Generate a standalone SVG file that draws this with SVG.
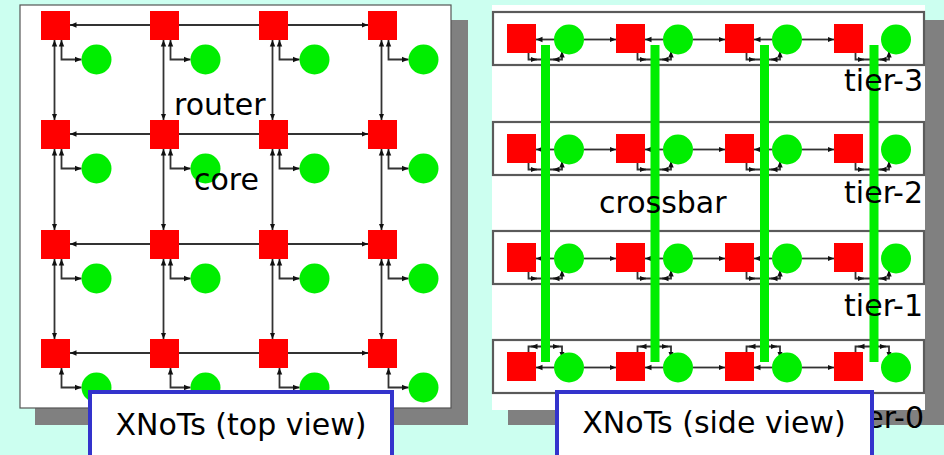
<svg xmlns="http://www.w3.org/2000/svg" width="944" height="455" viewBox="0 0 944 455">
<style>
.r{fill:#ff0000}
.c{fill:#00ee00}
.ln{fill:none;stroke:#333;stroke-width:1.8}
.ar{marker-start:url(#ah);marker-end:url(#ah)}
.ae{marker-end:url(#ah)}
.sh{fill:#808080}
.pn{fill:#ffffff;stroke:#555;stroke-width:1.2}
.st{fill:#ffffff;stroke:#5a5a5a;stroke-width:2.2}
.bar{fill:#00ee00}
.t{font-family:"DejaVu Sans",sans-serif;font-size:30px;fill:#000}
.lb{fill:#ffffff;stroke:#3333cc;stroke-width:4}
</style>
<defs>
<marker id="ah" viewBox="0 0 6 6" refX="6" refY="3" markerWidth="6.5" markerHeight="6.5" markerUnits="userSpaceOnUse" orient="auto-start-reverse"><path d="M0,0.5 L6,3 L0,5.5z" fill="#111"/></marker>
</defs>
<rect width="944" height="455" fill="#ccfff0"/>

<g id="panel-top">
<rect class="sh" x="35" y="20" width="433" height="405"/>
<rect class="pn" x="20" y="5" width="431" height="403"/>
</g>
<g id="panel-side">
<rect class="sh" x="508" y="20" width="436" height="405"/>
<rect fill="#ffffff" x="492" y="5" width="433" height="405"/>
<rect class="st" x="493" y="12" width="431" height="53"/>
<rect class="st" x="493" y="122" width="431" height="53"/>
<rect class="st" x="493" y="231" width="431" height="53"/>
<rect class="st" x="493" y="340" width="431" height="53"/>
</g>

<g id="connectors">
<path class="ln ar" d="M70,25 H150 M179,25 H259 M288,25 H368"/>
<path class="ln ar" d="M70,134 H150 M179,134 H259 M288,134 H368"/>
<path class="ln ar" d="M70,244 H150 M179,244 H259 M288,244 H368"/>
<path class="ln ar" d="M70,353 H150 M179,353 H259 M288,353 H368"/>
<path class="ln ar" d="M54.5,40 V120"/><path class="ln ar" d="M54.5,149 V230"/><path class="ln ar" d="M54.5,259 V339"/>
<path class="ln ar" d="M163.5,40 V120"/><path class="ln ar" d="M163.5,149 V230"/><path class="ln ar" d="M163.5,259 V339"/>
<path class="ln ar" d="M272.5,40 V120"/><path class="ln ar" d="M272.5,149 V230"/><path class="ln ar" d="M272.5,259 V339"/>
<path class="ln ar" d="M381.5,40 V120"/><path class="ln ar" d="M381.5,149 V230"/><path class="ln ar" d="M381.5,259 V339"/>
<path class="ln ar" d="M61.5,40 V59.5 H81.5"/><path class="ln ar" d="M170.5,40 V59.5 H190.5"/><path class="ln ar" d="M279.5,40 V59.5 H299.5"/><path class="ln ar" d="M388.5,40 V59.5 H408.5"/>
<path class="ln ar" d="M61.5,149 V168.5 H81.5"/><path class="ln ar" d="M170.5,149 V168.5 H190.5"/><path class="ln ar" d="M279.5,149 V168.5 H299.5"/><path class="ln ar" d="M388.5,149 V168.5 H408.5"/>
<path class="ln ar" d="M61.5,259 V278.5 H81.5"/><path class="ln ar" d="M170.5,259 V278.5 H190.5"/><path class="ln ar" d="M279.5,259 V278.5 H299.5"/><path class="ln ar" d="M388.5,259 V278.5 H408.5"/>
<path class="ln ar" d="M61.5,368 V387.5 H81.5"/><path class="ln ar" d="M170.5,368 V387.5 H190.5"/><path class="ln ar" d="M279.5,368 V387.5 H299.5"/><path class="ln ar" d="M388.5,368 V387.5 H408.5"/>

<path class="ln ae" d="M554,39.5 H536"/><path class="ln ae" d="M584,39.5 H616"/><path class="ln ae" d="M663,39.5 H645"/><path class="ln ae" d="M693,39.5 H725"/><path class="ln ae" d="M772,39.5 H754"/><path class="ln ae" d="M802,39.5 H834"/>
<path class="ln ae" d="M554,149.5 H536"/><path class="ln ae" d="M584,149.5 H616"/><path class="ln ae" d="M663,149.5 H645"/><path class="ln ae" d="M693,149.5 H725"/><path class="ln ae" d="M772,149.5 H754"/><path class="ln ae" d="M802,149.5 H834"/>
<path class="ln ae" d="M554,258.5 H536"/><path class="ln ae" d="M584,258.5 H616"/><path class="ln ae" d="M663,258.5 H645"/><path class="ln ae" d="M693,258.5 H725"/><path class="ln ae" d="M772,258.5 H754"/><path class="ln ae" d="M802,258.5 H834"/>
<path class="ln ae" d="M554,367.5 H536"/><path class="ln ae" d="M584,367.5 H616"/><path class="ln ae" d="M663,367.5 H645"/><path class="ln ae" d="M693,367.5 H725"/><path class="ln ae" d="M772,367.5 H754"/><path class="ln ae" d="M802,367.5 H834"/>
<path class="ln ar" d="M528.5,43 V59.5 H562 V51"/><path class="ln ar" d="M637.5,43 V59.5 H671 V51"/><path class="ln ar" d="M746.5,43 V59.5 H780 V51"/><path class="ln ar" d="M855.5,43 V59.5 H889 V51"/>
<path class="ln ar" d="M528.5,153 V169.5 H562 V161"/><path class="ln ar" d="M637.5,153 V169.5 H671 V161"/><path class="ln ar" d="M746.5,153 V169.5 H780 V161"/><path class="ln ar" d="M855.5,153 V169.5 H889 V161"/>
<path class="ln ar" d="M528.5,262 V278.5 H562 V270"/><path class="ln ar" d="M637.5,262 V278.5 H671 V270"/><path class="ln ar" d="M746.5,262 V278.5 H780 V270"/><path class="ln ar" d="M855.5,262 V278.5 H889 V270"/>
<path class="ln ar" d="M528.5,363 V346.5 H562 V358"/><path class="ln ar" d="M637.5,363 V346.5 H671 V358"/><path class="ln ar" d="M746.5,363 V346.5 H780 V358"/><path class="ln ar" d="M855.5,363 V346.5 H889 V358"/>
<g class="ln ae">
<path d="M531,59.5 H537"/><path d="M559,59.5 H553"/><path d="M640,59.5 H646"/><path d="M668,59.5 H662"/><path d="M749,59.5 H755"/><path d="M777,59.5 H771"/><path d="M858,59.5 H864"/><path d="M886,59.5 H880"/>
<path d="M531,169.5 H537"/><path d="M559,169.5 H553"/><path d="M640,169.5 H646"/><path d="M668,169.5 H662"/><path d="M749,169.5 H755"/><path d="M777,169.5 H771"/><path d="M858,169.5 H864"/><path d="M886,169.5 H880"/>
<path d="M531,278.5 H537"/><path d="M559,278.5 H553"/><path d="M640,278.5 H646"/><path d="M668,278.5 H662"/><path d="M749,278.5 H755"/><path d="M777,278.5 H771"/><path d="M858,278.5 H864"/><path d="M886,278.5 H880"/>
<path d="M537,346.5 H531"/><path d="M553,346.5 H559"/><path d="M646,346.5 H640"/><path d="M662,346.5 H668"/><path d="M755,346.5 H749"/><path d="M771,346.5 H777"/><path d="M864,346.5 H858"/><path d="M880,346.5 H886"/>
</g>
</g>

<g id="tv-r00"><rect class="r" x="41" y="11" width="29" height="29"/></g>
<g id="tv-r01"><rect class="r" x="150" y="11" width="29" height="29"/></g>
<g id="tv-r02"><rect class="r" x="259" y="11" width="29" height="29"/></g>
<g id="tv-r03"><rect class="r" x="368" y="11" width="29" height="29"/></g>
<g id="tv-r10"><rect class="r" x="41" y="120" width="29" height="29"/></g>
<g id="tv-r11"><rect class="r" x="150" y="120" width="29" height="29"/></g>
<g id="tv-r12"><rect class="r" x="259" y="120" width="29" height="29"/></g>
<g id="tv-r13"><rect class="r" x="368" y="120" width="29" height="29"/></g>
<g id="tv-r20"><rect class="r" x="41" y="230" width="29" height="29"/></g>
<g id="tv-r21"><rect class="r" x="150" y="230" width="29" height="29"/></g>
<g id="tv-r22"><rect class="r" x="259" y="230" width="29" height="29"/></g>
<g id="tv-r23"><rect class="r" x="368" y="230" width="29" height="29"/></g>
<g id="tv-r30"><rect class="r" x="41" y="339" width="29" height="29"/></g>
<g id="tv-r31"><rect class="r" x="150" y="339" width="29" height="29"/></g>
<g id="tv-r32"><rect class="r" x="259" y="339" width="29" height="29"/></g>
<g id="tv-r33"><rect class="r" x="368" y="339" width="29" height="29"/></g>
<g id="tv-c00"><circle class="c" cx="96.5" cy="59.5" r="15"/></g>
<g id="tv-c01"><circle class="c" cx="205.5" cy="59.5" r="15"/></g>
<g id="tv-c02"><circle class="c" cx="314.5" cy="59.5" r="15"/></g>
<g id="tv-c03"><circle class="c" cx="423.5" cy="59.5" r="15"/></g>
<g id="tv-c10"><circle class="c" cx="96.5" cy="168.5" r="15"/></g>
<g id="tv-c11"><circle class="c" cx="205.5" cy="168.5" r="15"/></g>
<g id="tv-c12"><circle class="c" cx="314.5" cy="168.5" r="15"/></g>
<g id="tv-c13"><circle class="c" cx="423.5" cy="168.5" r="15"/></g>
<g id="tv-c20"><circle class="c" cx="96.5" cy="278.5" r="15"/></g>
<g id="tv-c21"><circle class="c" cx="205.5" cy="278.5" r="15"/></g>
<g id="tv-c22"><circle class="c" cx="314.5" cy="278.5" r="15"/></g>
<g id="tv-c23"><circle class="c" cx="423.5" cy="278.5" r="15"/></g>
<g id="tv-c30"><circle class="c" cx="96.5" cy="387.5" r="15"/></g>
<g id="tv-c31"><circle class="c" cx="205.5" cy="387.5" r="15"/></g>
<g id="tv-c32"><circle class="c" cx="314.5" cy="387.5" r="15"/></g>
<g id="tv-c33"><circle class="c" cx="423.5" cy="387.5" r="15"/></g>

<g id="sv-r30"><rect class="r" x="507" y="24" width="29" height="29"/></g>
<g id="sv-r31"><rect class="r" x="616" y="24" width="29" height="29"/></g>
<g id="sv-r32"><rect class="r" x="725" y="24" width="29" height="29"/></g>
<g id="sv-r33"><rect class="r" x="834" y="24" width="29" height="29"/></g>
<g id="sv-r20"><rect class="r" x="507" y="134" width="29" height="29"/></g>
<g id="sv-r21"><rect class="r" x="616" y="134" width="29" height="29"/></g>
<g id="sv-r22"><rect class="r" x="725" y="134" width="29" height="29"/></g>
<g id="sv-r23"><rect class="r" x="834" y="134" width="29" height="29"/></g>
<g id="sv-r10"><rect class="r" x="507" y="243" width="29" height="29"/></g>
<g id="sv-r11"><rect class="r" x="616" y="243" width="29" height="29"/></g>
<g id="sv-r12"><rect class="r" x="725" y="243" width="29" height="29"/></g>
<g id="sv-r13"><rect class="r" x="834" y="243" width="29" height="29"/></g>
<g id="sv-r00"><rect class="r" x="507" y="352" width="29" height="29"/></g>
<g id="sv-r01"><rect class="r" x="616" y="352" width="29" height="29"/></g>
<g id="sv-r02"><rect class="r" x="725" y="352" width="29" height="29"/></g>
<g id="sv-r03"><rect class="r" x="834" y="352" width="29" height="29"/></g>
<g id="sv-c30"><circle class="c" cx="569" cy="39.5" r="15"/></g>
<g id="sv-c31"><circle class="c" cx="678" cy="39.5" r="15"/></g>
<g id="sv-c32"><circle class="c" cx="787" cy="39.5" r="15"/></g>
<g id="sv-c33"><circle class="c" cx="896" cy="39.5" r="15"/></g>
<g id="sv-c20"><circle class="c" cx="569" cy="149.5" r="15"/></g>
<g id="sv-c21"><circle class="c" cx="678" cy="149.5" r="15"/></g>
<g id="sv-c22"><circle class="c" cx="787" cy="149.5" r="15"/></g>
<g id="sv-c23"><circle class="c" cx="896" cy="149.5" r="15"/></g>
<g id="sv-c10"><circle class="c" cx="569" cy="258.5" r="15"/></g>
<g id="sv-c11"><circle class="c" cx="678" cy="258.5" r="15"/></g>
<g id="sv-c12"><circle class="c" cx="787" cy="258.5" r="15"/></g>
<g id="sv-c13"><circle class="c" cx="896" cy="258.5" r="15"/></g>
<g id="sv-c00"><circle class="c" cx="569" cy="367.5" r="15"/></g>
<g id="sv-c01"><circle class="c" cx="678" cy="367.5" r="15"/></g>
<g id="sv-c02"><circle class="c" cx="787" cy="367.5" r="15"/></g>
<g id="sv-c03"><circle class="c" cx="896" cy="367.5" r="15"/></g>

<g id="crossbars">
<rect class="bar" x="541" y="45" width="9" height="317"/>
<rect class="bar" x="650.5" y="45" width="9" height="317"/>
<rect class="bar" x="760" y="45" width="9" height="317"/>
<rect class="bar" x="869.5" y="45" width="9" height="317"/>
</g>

<g id="labels">
<text class="t" x="174" y="115">router</text>
<text class="t" x="194" y="190">core</text>
<text class="t" x="599" y="213">crossbar</text>
<text class="t" x="923" y="91" text-anchor="end">tier-3</text>
<text class="t" x="923" y="203" text-anchor="end">tier-2</text>
<text class="t" x="923" y="316" text-anchor="end">tier-1</text>
<text class="t" x="924" y="428" text-anchor="end">tier-0</text>
</g>

<g id="caption-top">
<rect class="lb" x="90" y="392" width="302" height="75"/>
<text class="t" x="241" y="435" text-anchor="middle">XNoTs (top view)</text>
</g>
<g id="caption-side">
<rect class="lb" x="557" y="392" width="315" height="75"/>
<text class="t" x="714" y="433" text-anchor="middle">XNoTs (side view)</text>
</g>
</svg>
